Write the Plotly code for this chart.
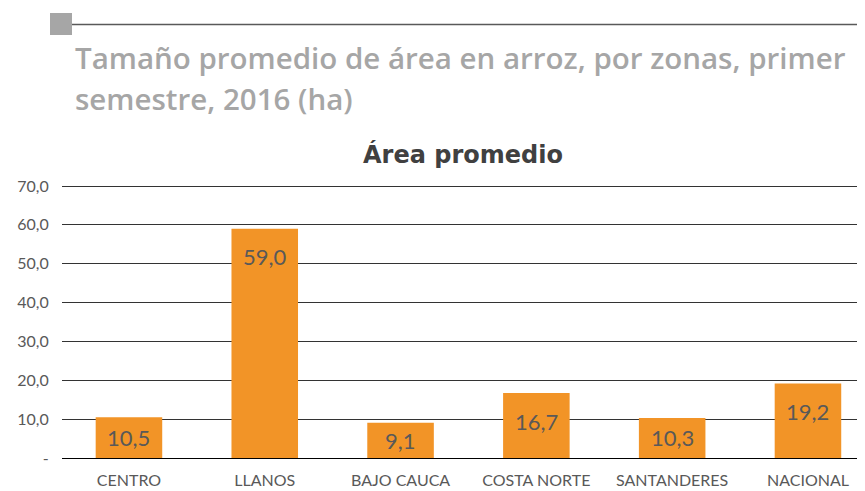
import plotly.graph_objects as go

categories = ["CENTRO", "LLANOS", "BAJO CAUCA", "COSTA NORTE", "SANTANDERES", "NACIONAL"]
values = [10.5, 59.0, 9.1, 16.7, 10.3, 19.2]
value_labels = ["10,5", "59,0", "9,1", "16,7", "10,3", "19,2"]
y_ticks = [0, 10, 20, 30, 40, 50, 60, 70]
y_tick_labels = ["-", "10,0", "20,0", "30,0", "40,0", "50,0", "60,0", "70,0"]

OFF = 8  # page body margin offset
W, H = 865 - OFF, 491 - OFF
L, R, T, B = 62 - OFF, 0, 176, 33
plot_w = W - L - R
plot_h = H - T - B
px_per_unit = 272 / 70.0
y_top = 70 + (plot_h - 272) / px_per_unit

fig = go.Figure()
fig.add_trace(go.Bar(
    x=categories, y=values, width=0.49,
    marker=dict(color="#F29427", line=dict(width=0)),
    hoverinfo="skip",
))

# value labels: "inside end" style, clamped to bar middle for short bars
for c, v, t in zip(categories, values, value_labels):
    shift = -min(28.0, v * px_per_unit / 2.0)
    fig.add_annotation(x=c, y=v, xref="x", yref="y", text=t, showarrow=False,
                       yanchor="middle", yshift=shift,
                       font=dict(family="Lato", size=22, color="#595959"))

def px_x(p):
    return (p - OFF - L) / plot_w

def px_y(p):
    return (H - B - (p - OFF)) / plot_h

# top decoration
fig.add_shape(type="rect", xref="paper", yref="paper",
              x0=px_x(50), x1=px_x(72), y0=px_y(35), y1=px_y(13),
              fillcolor="#A6A6A6", line=dict(width=0))
fig.add_shape(type="line", xref="paper", yref="paper",
              x0=px_x(72), x1=1, y0=px_y(24.5), y1=px_y(24.5),
              line=dict(color="#595959", width=1.5))

title_font = dict(family="Open Sans", size=29.5, color="#A6A6A6", weight=600)
fig.add_annotation(xref="paper", yref="paper", x=px_x(73), y=px_y(57),
                   xanchor="left", yanchor="middle", showarrow=False,
                   text="Tamaño promedio de área en arroz, por zonas, primer",
                   font=title_font)
fig.add_annotation(xref="paper", yref="paper", x=px_x(73), y=px_y(98),
                   xanchor="left", yanchor="middle", showarrow=False,
                   text="semestre, 2016 (ha)", font=title_font)
fig.add_annotation(xref="paper", yref="paper", x=px_x(463), y=px_y(154),
                   xanchor="center", yanchor="middle", showarrow=False,
                   text="Área promedio",
                   font=dict(family="DejaVu Sans", size=24, color="#404040", weight=700))

fig.update_layout(
    width=W, height=H,
    margin=dict(l=L, r=R, t=T, b=B, pad=0, autoexpand=False),
    paper_bgcolor="white", plot_bgcolor="white",
    showlegend=False, bargap=0.5,
    xaxis=dict(type="category", range=[-0.493, 5.42], showgrid=False, showline=False,
               zeroline=False, automargin=False,
               ticks="outside", ticklen=8, tickcolor="rgba(0,0,0,0)",
               tickfont=dict(family="Lato", size=16, color="#595959")),
    yaxis=dict(range=[0, y_top], tickvals=y_ticks, ticktext=y_tick_labels,
               showgrid=True, gridcolor="#333333", gridwidth=1,
               zeroline=True, zerolinecolor="#000000", zerolinewidth=1,
               showline=False, automargin=False,
               ticks="outside", ticklen=9, tickcolor="rgba(0,0,0,0)",
               tickfont=dict(family="Lato", size=16, color="#595959")),
)

fig.write_html("out.html")
